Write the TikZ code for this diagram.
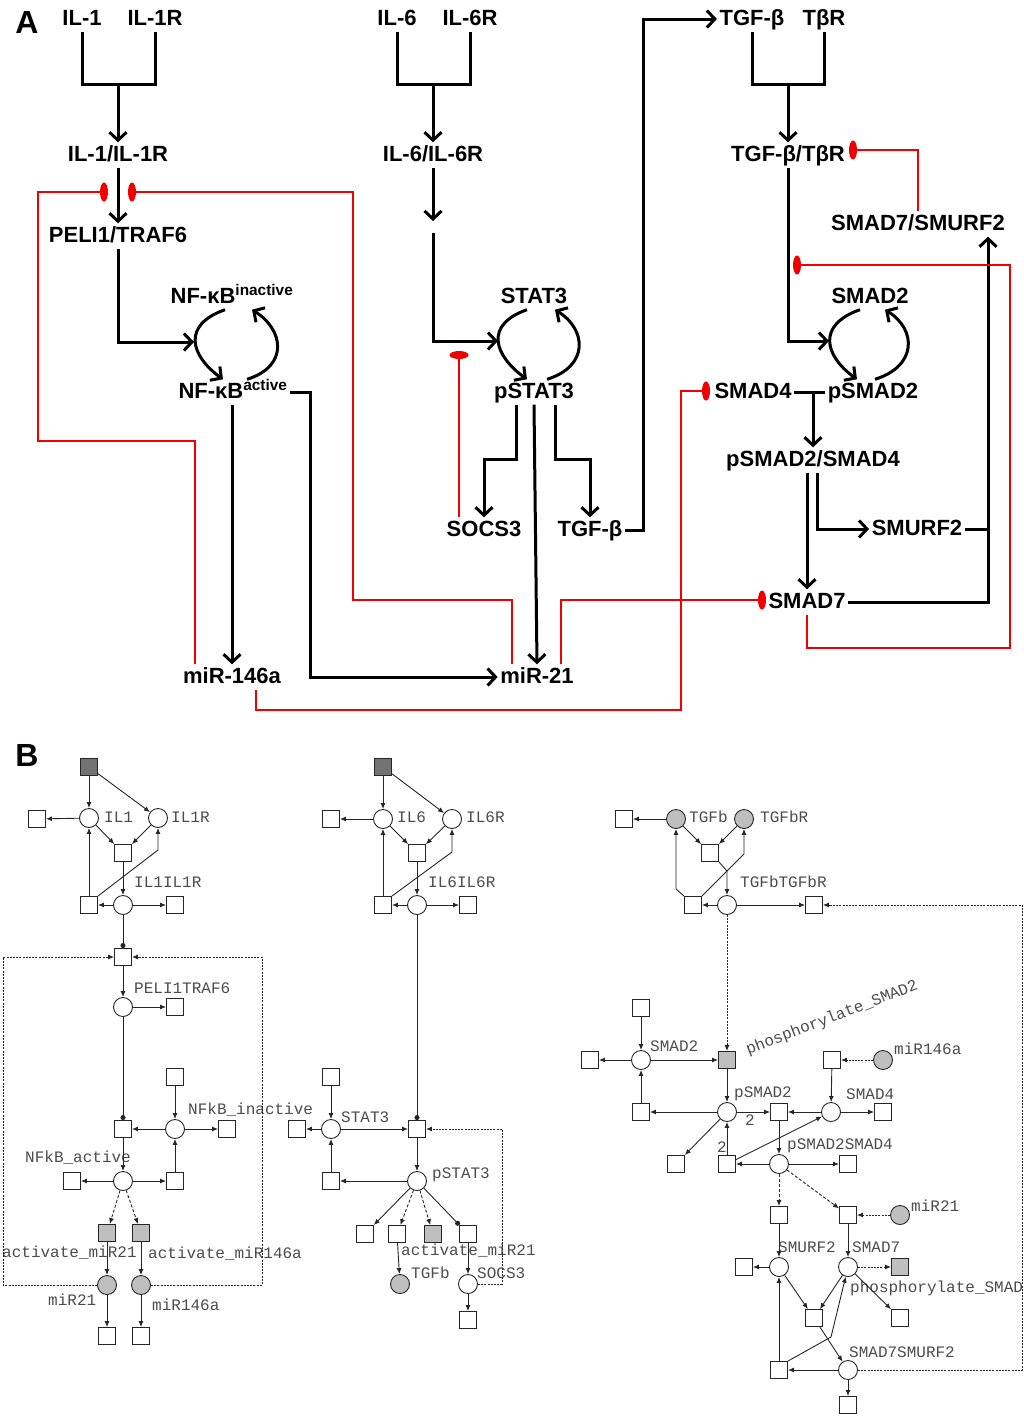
\documentclass[tikz,border=0pt]{standalone}
\usepackage{fontspec}
\setmainfont{Liberation Sans}
\newfontfamily\petrifont{Liberation Mono}
\usetikzlibrary{arrows.meta,shapes.geometric}

\definecolor{inhred}{RGB}{240,0,0}

\tikzset{
  lbl/.style={font=\fontsize{22}{24}\selectfont\bfseries, text height=16pt, text depth=4pt, inner sep=2.5pt},
  panel/.style={font=\fontsize{32}{34}\selectfont\bfseries, inner sep=0pt},
  link/.style={line width=3pt},
  act/.style={line width=3pt, -{Straight Barb[length=8pt,width=17pt]}},
  inh/.style={line width=2.7pt, draw=inhred},
  blockv/.style={ellipse, fill=inhred, minimum width=8pt, minimum height=19pt, inner sep=0pt},
  blockh/.style={ellipse, fill=inhred, minimum width=19pt, minimum height=8pt, inner sep=0pt},
  place/.style={circle, draw=black!85, line width=0.9pt, fill=white, minimum size=19pt, inner sep=0pt},
  trans/.style={rectangle, draw=black!85, line width=0.9pt, fill=white, minimum size=17pt, inner sep=0pt},
  src/.style={trans, fill=black!55},
  gtrans/.style={trans, fill=black!25},
  gplace/.style={place, fill=black!25},
  plab/.style={font=\petrifont\fontsize{16}{18}\selectfont, text=black!70, inner sep=0pt, anchor=west},
  pe/.style={line width=0.9pt, draw=black!85, -{Latex[length=6pt,width=5pt]}},
  pdash/.style={pe, dash pattern=on 3pt off 2pt},
  pdot/.style={pe, dash pattern=on 2pt off 1.2pt},
  ptest/.style={line width=0.9pt, draw=black!85, -{Circle[length=5pt]}}
}

\begin{document}
\begin{tikzpicture}[x=1pt, y=-1pt]
    \useasboundingbox (0,0) rectangle (1024,1416);

    \node[panel] (pa) at (27,22) {A};

    \node[lbl] (il1) at (82,19) {IL-1};
    \node[lbl] (il1r) at (155,19) {IL-1R};
    \node[lbl] (il1c) at (118,155) {IL-1/IL-1R};
    \node[lbl] (peli) at (118,236) {PELI1/TRAF6};
    \node[lbl] (nfkbi) at (232,297) {NF-κB\textsuperscript{inactive}};
    \node[lbl] (nfkba) at (233,392) {NF-κB\textsuperscript{active}};
    \node[lbl] (mir146) at (232,677) {miR-146a};
    \node[lbl] (mir21) at (537,677) {miR-21};

    \node[lbl] (il6) at (397,19) {IL-6};
    \node[lbl] (il6r) at (470,19) {IL-6R};
    \node[lbl] (il6c) at (433,155) {IL-6/IL-6R};
    \node[lbl] (stat3) at (534,297) {STAT3};
    \node[lbl] (pstat3) at (534,392) {pSTAT3};
    \node[lbl] (socs3) at (484,530) {SOCS3};
    \node[lbl] (tgfbs) at (590,530) {TGF-β};

    \node[lbl] (tgfb) at (752,19) {TGF-β};
    \node[lbl] (tbr) at (824,19) {TβR};
    \node[lbl] (tgfbc) at (788,155) {TGF-β/TβR};
    \node[lbl] (smad7s) at (918,224) {SMAD7/SMURF2};
    \node[lbl] (smad2) at (870,297) {SMAD2};
    \node[lbl] (smad4) at (753,392) {SMAD4};
    \node[lbl] (psmad2) at (873,392) {pSMAD2};
    \node[lbl] (psmad24) at (813,460) {pSMAD2/SMAD4};
    \node[lbl] (smurf2) at (917,529) {SMURF2};
    \node[lbl] (smad7) at (807,602) {SMAD7};

    \coordinate (j1) at (118,84);
    \coordinate (j6) at (433,84);
    \coordinate (jt) at (788,84);
    \coordinate (nfin) at (194,342);
    \coordinate (stin) at (498,341);
    \coordinate (smin) at (829,341);
    \coordinate (g6a) at (433,221);
    \coordinate (g6b) at (433,233);

    \node[blockv] (barl) at (104,192) {};
    \node[blockv] (barr) at (132,192) {};
    \node[blockv] (bar4) at (706,391) {};
    \node[blockv] (bar7) at (762,600) {};
    \node[blockv] (bart) at (853,150) {};
    \node[blockv] (bars) at (797,265) {};
    \node[blockh] (barh) at (459,355) {};

    \draw[link] (il1.south) |- (j1) -| (il1r.south);
    \draw[act] (j1) -- (il1c);
    \draw[act] (il1c) -- (peli);
    \draw[act] (peli) |- (nfin);
    \draw[act] ([xshift=-7pt]nfkbi.south) .. controls +(-43,15) and +(-33,-24) .. ([xshift=-10pt]nfkba.north);
    \draw[act] ([xshift=14pt]nfkba.north) .. controls +(42,-13) and +(32,20) .. ([xshift=20pt]nfkbi.south);
    \draw[act] (mir146.north |- nfkba.south) -- (mir146.north);
    \draw[act] (nfkba.east) -- ++(20,0) |- (mir21.west);

    \draw[link] (il6.south) |- (j6) -| (il6r.south);
    \draw[act] (j6) -- (il6c);
    \draw[act] (il6c) -- (g6a);
    \draw[act] (g6b) |- (stin);
    \draw[act] ([xshift=-7pt]stat3.south) .. controls +(-43,15) and +(-33,-24) .. ([xshift=-7pt]pstat3.north);
    \draw[act] ([xshift=13pt]pstat3.north) .. controls +(42,-13) and +(32,20) .. ([xshift=21pt]stat3.south);
    \draw[act] ([xshift=-18pt]pstat3.south) -- ++(0,55) -| (socs3.north);
    \draw[act] ([xshift=21pt]pstat3.south) -- ++(0,55) -| (tgfbs.north);
    \draw[act] (pstat3.south) -- (mir21.north);
    \draw[act] (tgfbs.east) -- ++(18,0) |- (tgfb.west);

    \draw[link] (tgfb.south) |- (jt) -| (tbr.south);
    \draw[act] (jt) -- (tgfbc);
    \draw[act] (tgfbc) |- (smin);
    \draw[act] ([xshift=-10pt]smad2.south) .. controls +(-43,15) and +(-33,-24) .. ([xshift=-16pt]psmad2.north);
    \draw[act] ([xshift=2pt]psmad2.north) .. controls +(42,-13) and +(32,20) .. ([xshift=15pt]smad2.south);
    \draw[link] (smad4.east) -- (psmad2.west);
    \draw[act] (psmad24.north |- smad4.east) -- (psmad24.north);
    \draw[act] (smad7.north |- psmad24.south) -- (smad7.north);
    \draw[act] ([xshift=4pt]psmad24.south) |- (smurf2.west);
    \draw[link] (smurf2.east) -- ++(24,0);
    \draw[act] (smad7.east) -| ([xshift=70pt]smad7s.south);

    \draw[inh] ([xshift=-37pt]mir146.north) |- (38,441) |- (barl);
    \draw[inh] ([xshift=-25pt]mir21.north) |- (353,600) |- (barr);
    \draw[inh] ([xshift=24pt]mir146.south) |- (681,710) |- (bar4);
    \draw[inh] ([xshift=24pt]mir21.north) |- (bar7);
    \draw[inh] ([xshift=-25pt]socs3.north) -- (barh);
    \draw[inh] (smad7s.north) |- (bart);
    \draw[inh] (smad7.south) |- (1010,648) |- (bars);

    \node[panel] (pb) at (27,755) {B};

    \node[src] (s1) at (89,767) {};
    \node[place] (il1p) at (89,818) {};
    \node[place] (il1rp) at (158,818) {};
    \node[trans] (t1a) at (37,819) {};
    \node[trans] (t1b) at (123,853) {};
    \node[trans] (t1c) at (89,905) {};
    \node[place] (il1il1r) at (123,905) {};
    \node[trans] (t1d) at (175,905) {};
    \node[trans] (t1e) at (123,957) {};
    \node[place] (pelip) at (123,1007) {};
    \node[trans] (t1f) at (175,1007) {};
    \node[trans] (t1g) at (175,1077) {};
    \node[trans] (t1h) at (123,1129) {};
    \node[place] (nfkbip) at (175,1129) {};
    \node[trans] (t1i) at (227,1129) {};
    \node[trans] (t1j) at (72,1181) {};
    \node[place] (nfkbap) at (123,1181) {};
    \node[trans] (t1k) at (175,1181) {};
    \node[gtrans] (g1) at (107,1233) {};
    \node[gtrans] (g2) at (141,1233) {};
    \node[gplace] (mir21p) at (107,1285) {};
    \node[gplace] (mir146p) at (141,1285) {};
    \node[trans] (t1l) at (107,1336) {};
    \node[trans] (t1m) at (141,1336) {};

    \node[plab] (l1a) at (104,817) {IL1};
    \node[plab] (l1b) at (171,817) {IL1R};
    \node[plab] (l1c) at (134,882) {IL1IL1R};
    \node[plab] (l1d) at (134,988) {PELI1TRAF6};
    \node[plab] (l1e) at (188,1110) {NFkB\_inactive};
    \node[plab] (l1f) at (25,1158) {NFkB\_active};
    \node[plab] (l1g) at (2,1253) {activate\_miR21};
    \node[plab] (l1h) at (148,1254) {activate\_miR146a};
    \node[plab] (l1i) at (48,1300) {miR21};
    \node[plab] (l1j) at (152,1305) {miR146a};

    \draw[pe] (s1) -- (il1p);
    \draw[pe] (s1) -- (il1rp);
    \draw[pe] (il1p) -- (t1a);
    \draw[pe] (il1p) -- (t1b);
    \draw[pe] (il1rp) -- (t1b);
    \draw[pe] (t1b) -- (il1il1r);
    \draw[pe] (il1il1r) -- (t1c);
    \draw[pe] (t1c) -- (il1p);
    \draw[pe] (t1c.north east) -- (158,850) -- (il1rp);
    \draw[pe] (il1il1r) -- (t1d);
    \draw[ptest] (il1il1r) -- (t1e);
    \draw[pe] (t1e) -- (pelip);
    \draw[pe] (pelip) -- (t1f);
    \draw[ptest] (pelip) -- (t1h);
    \draw[pe] (t1g) -- (nfkbip);
    \draw[pe] (nfkbip) -- (t1h);
    \draw[pe] (nfkbip) -- (t1i);
    \draw[pe] (t1h) -- (nfkbap);
    \draw[pe] (nfkbap) -- (t1j);
    \draw[pe] (nfkbap) -- (t1k);
    \draw[pe] (t1k) -- (nfkbip);
    \draw[pdash] (nfkbap) -- (g1);
    \draw[pdash] (nfkbap) -- (g2);
    \draw[pe] (g1) -- (mir21p);
    \draw[pe] (g2) -- (mir146p);
    \draw[pe] (mir21p) -- (t1l);
    \draw[pe] (mir146p) -- (t1m);
    \draw[pdot] (mir21p) -| (3,957) -- (t1e);
    \draw[pdot] (mir146p) -| (262,957) -- (t1e);

    \node[src] (s2) at (383,767) {};
    \node[place] (il6p) at (383,819) {};
    \node[place] (il6rp) at (452,819) {};
    \node[trans] (t2a) at (331,819) {};
    \node[trans] (t2b) at (417,853) {};
    \node[trans] (t2c) at (383,905) {};
    \node[place] (il6il6r) at (417,905) {};
    \node[trans] (t2d) at (468,905) {};
    \node[trans] (t2e) at (417,1129) {};
    \node[trans] (t2f) at (331,1077) {};
    \node[place] (stat3p) at (331,1129) {};
    \node[trans] (t2g) at (297,1129) {};
    \node[place] (pstat3p) at (417,1181) {};
    \node[trans] (t2h) at (331,1181) {};
    \node[trans] (t2i) at (365,1234) {};
    \node[trans] (t2j) at (397,1234) {};
    \node[gtrans] (g3) at (433,1234) {};
    \node[trans] (t2k) at (468,1234) {};
    \node[gplace] (tgfbp) at (400,1284) {};
    \node[place] (socs3p) at (468,1284) {};
    \node[trans] (t2l) at (468,1320) {};

    \node[plab] (l2a) at (397,817) {IL6};
    \node[plab] (l2b) at (466,817) {IL6R};
    \node[plab] (l2c) at (428,882) {IL6IL6R};
    \node[plab] (l2d) at (341,1117) {STAT3};
    \node[plab] (l2e) at (432,1175) {pSTAT3};
    \node[plab] (l2f) at (401,1251) {activate\_miR21};
    \node[plab] (l2g) at (411,1273) {TGFb};
    \node[plab] (l2h) at (477,1273) {SOCS3};

    \draw[pe] (s2) -- (il6p);
    \draw[pe] (s2) -- (il6rp);
    \draw[pe] (il6p) -- (t2a);
    \draw[pe] (il6p) -- (t2b);
    \draw[pe] (il6rp) -- (t2b);
    \draw[pe] (t2b) -- (il6il6r);
    \draw[pe] (il6il6r) -- (t2c);
    \draw[pe] (t2c) -- (il6p);
    \draw[pe] (t2c.north east) -- (452,852) -- (il6rp);
    \draw[pe] (il6il6r) -- (t2d);
    \draw[ptest] (il6il6r) -- (t2e);
    \draw[pe] (t2f) -- (stat3p);
    \draw[pe] (stat3p) -- (t2g);
    \draw[pe] (stat3p) -- (t2e);
    \draw[pe] (t2e) -- (pstat3p);
    \draw[pe] (pstat3p) -- (t2h);
    \draw[pe] (t2h) -- (stat3p);
    \draw[pe] (pstat3p) -- (t2i);
    \draw[pdash] (pstat3p) -- (t2j);
    \draw[pdash] (pstat3p) -- (g3);
    \draw[ptest] (pstat3p) -- (t2k);
    \draw[pe] (t2j) -- (tgfbp);
    \draw[pe] (t2k) -- (socs3p);
    \draw[pe] (socs3p) -- (t2l);
    \draw[pdot] (socs3p) -| (502,1129) -- (t2e);

    \node[trans] (t3a) at (624,819) {};
    \node[gplace] (tgfbp2) at (676,819) {};
    \node[gplace] (tgfbrp) at (744,819) {};
    \node[trans] (t3b) at (710,853) {};
    \node[trans] (t3c) at (693,905) {};
    \node[place] (tgfbcp) at (727,905) {};
    \node[trans] (t3d) at (814,905) {};
    \node[trans] (t3e) at (641,1008) {};
    \node[place] (smad2p) at (641,1060) {};
    \node[trans] (t3f) at (590,1060) {};
    \node[gtrans] (g4) at (727,1060) {};
    \node[trans] (t3g) at (832,1060) {};
    \node[gplace] (mir146p2) at (883,1060) {};
    \node[trans] (t3h) at (641,1112) {};
    \node[place] (psmad2p) at (727,1112) {};
    \node[trans] (t3i) at (779,1112) {};
    \node[place] (smad4p) at (831,1112) {};
    \node[trans] (t3j) at (883,1112) {};
    \node[trans] (t3k) at (676,1164) {};
    \node[trans] (t3l) at (727,1164) {};
    \node[place] (psmad24p) at (779,1164) {};
    \node[trans] (t3m) at (848,1164) {};
    \node[trans] (t3n) at (779,1215) {};
    \node[trans] (t3o) at (848,1215) {};
    \node[gplace] (mir21p2) at (900,1215) {};
    \node[trans] (t3p) at (744,1267) {};
    \node[place] (smurf2p) at (779,1267) {};
    \node[place] (smad7p) at (848,1267) {};
    \node[gtrans] (g5) at (900,1267) {};
    \node[trans] (t3q) at (814,1318) {};
    \node[trans] (t3r) at (900,1318) {};
    \node[trans] (t3s) at (779,1370) {};
    \node[place] (smad7smurf2p) at (848,1370) {};
    \node[trans] (t3t) at (848,1405) {};

    \node[plab] (l3a) at (689,817) {TGFb};
    \node[plab] (l3b) at (760,817) {TGFbR};
    \node[plab] (l3c) at (740,882) {TGFbTGFbR};
    \node[plab, anchor=center, rotate=21] (l3d) at (832,1018) {phosphorylate\_SMAD2};
    \node[plab] (l3e) at (650,1046) {SMAD2};
    \node[plab] (l3f) at (894,1049) {miR146a};
    \node[plab] (l3g) at (734,1094) {pSMAD2};
    \node[plab] (l3h) at (846,1094) {SMAD4};
    \node[plab] (l3i) at (745,1120) {2};
    \node[plab] (l3j) at (717,1147) {2};
    \node[plab] (l3k) at (787,1146) {pSMAD2SMAD4};
    \node[plab] (l3l) at (911,1206) {miR21};
    \node[plab] (l3m) at (778,1247) {SMURF2};
    \node[plab] (l3n) at (852,1247) {SMAD7};
    \node[plab] (l3o) at (850,1288) {phosphorylate\_SMAD2};
    \node[plab] (l3p) at (849,1352) {SMAD7SMURF2};

    \draw[pe] (tgfbp2) -- (t3a);
    \draw[pe] (tgfbp2) -- (t3b);
    \draw[pe] (tgfbrp) -- (t3b);
    \draw[pe] (t3b.south east) -- (727,871) -- (tgfbcp);
    \draw[pe] (tgfbcp) -- (t3c);
    \draw[pe] (t3c.north west) -- (676,889) -- (tgfbp2);
    \draw[pe] (t3c.north east) -- (744,854) -- (tgfbrp);
    \draw[pe] (tgfbcp) -- (t3d);
    \draw[pdot] (tgfbcp) -- (g4);
    \draw[pdot] (smad7smurf2p) -| (1022,905) -- (t3d);
    \draw[pe] (t3e) -- (smad2p);
    \draw[pe] (smad2p) -- (t3f);
    \draw[pe] (smad2p) -- (g4);
    \draw[pe] (g4) -- (psmad2p);
    \draw[pe] (psmad2p) -- (t3h);
    \draw[pe] (t3h) -- (smad2p);
    \draw[pe] (psmad2p) -- (t3i);
    \draw[pe] (psmad2p) -- (t3k);
    \draw[pe] (t3l) -- (psmad2p);
    \draw[pe] (t3g) -- (smad4p);
    \draw[pdot] (mir146p2) -- (t3g);
    \draw[pe] (smad4p) -- (t3i);
    \draw[pe] (smad4p) -- (t3j);
    \draw[pe] (t3i) -- (psmad24p);
    \draw[pe] (psmad24p) -- (t3l);
    \draw[pe] (t3l) -- (smad4p);
    \draw[pe] (psmad24p) -- (t3m);
    \draw[pdash] (psmad24p) -- (t3n);
    \draw[pdash] (psmad24p) -- (t3o);
    \draw[pdot] (mir21p2) -- (t3o);
    \draw[pe] (t3n) -- (smurf2p);
    \draw[pe] (t3o) -- (smad7p);
    \draw[pe] (smurf2p) -- (t3p);
    \draw[pdot] (smad7p) -- (g5);
    \draw[pe] (smurf2p) -- (t3q);
    \draw[pe] (smad7p) -- (t3q);
    \draw[pe] (smad7p) -- (t3r);
    \draw[pe] (t3q) -- (smad7smurf2p);
    \draw[pe] (smad7smurf2p) -- (t3s);
    \draw[pe] (t3s) -- (smurf2p);
    \draw[pe] (t3s.north east) -- (831,1337) -- (smad7p);
    \draw[pe] (smad7smurf2p) -- (t3t);
  \end{tikzpicture}
\end{document}
